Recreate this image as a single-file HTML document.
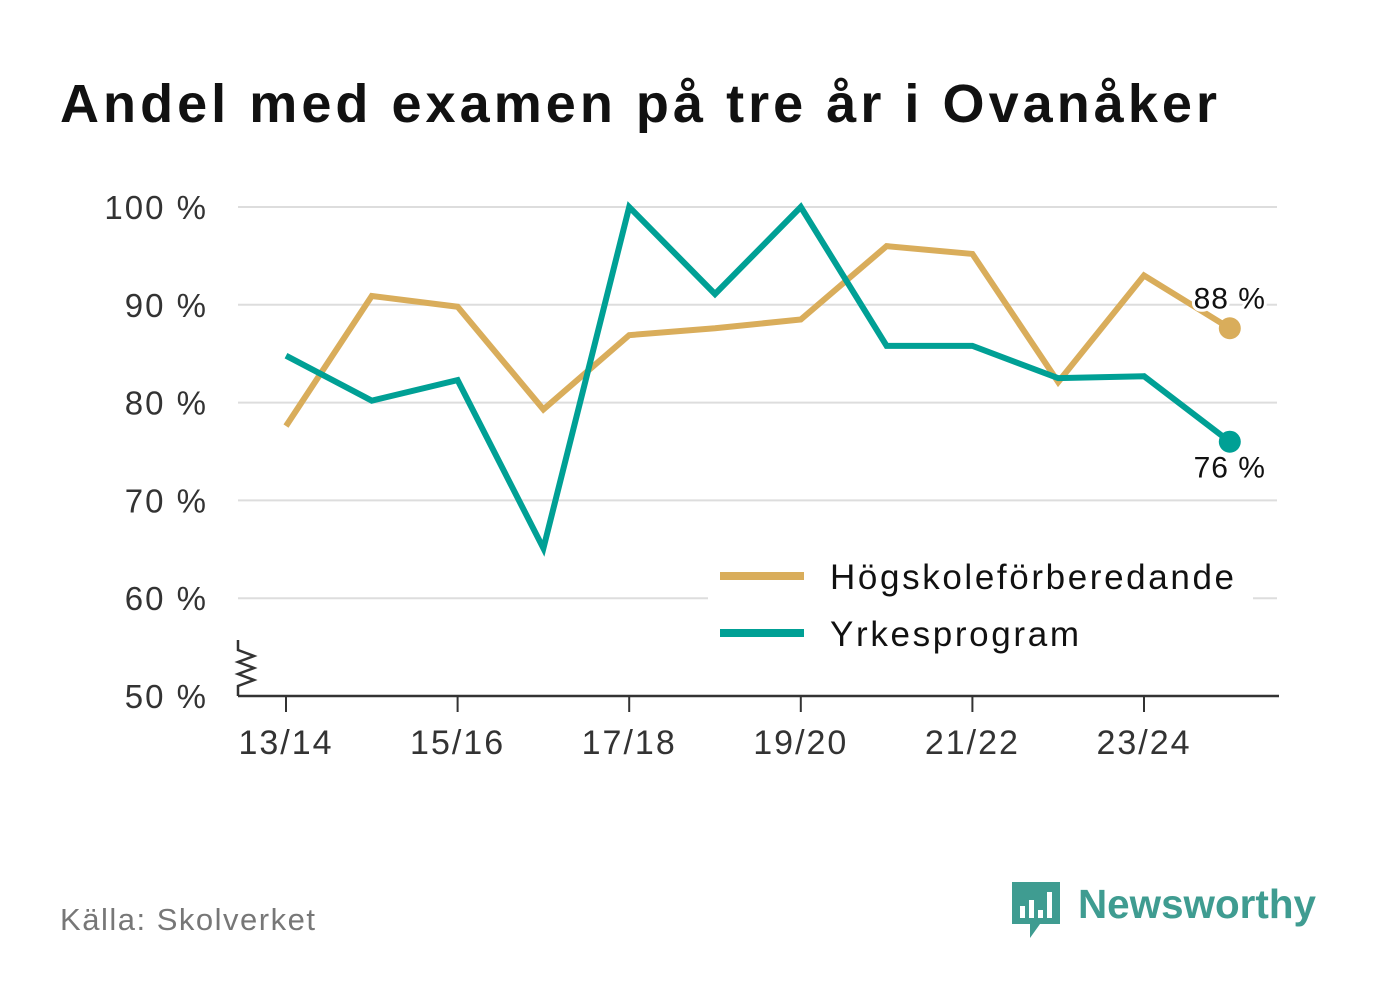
<!DOCTYPE html>
<html><head><meta charset="utf-8"><style>
body{margin:0;background:#fff;width:1382px;height:999px;overflow:hidden;font-family:"Liberation Sans",sans-serif}
</style></head><body>
<svg width="1382" height="999" id="svg">
<text x="60" y="122" font-size="54" font-weight="bold" fill="#111" textLength="1157" lengthAdjust="spacing">Andel med examen på tre år i Ovanåker</text>
<g id="grid"></g>
<g id="lines"></g>
<text x="60" y="930" font-size="31" fill="#777" textLength="255" lengthAdjust="spacing">Källa: Skolverket</text>
<g>
<path d="M1012 882h48v42h-20l-10 14v-14h-18z" fill="#3f9c91"/>
<rect x="1020" y="906" width="5" height="12" fill="#fff"/><rect x="1029" y="900" width="5" height="18" fill="#fff"/><rect x="1038" y="910" width="5" height="8" fill="#fff"/><rect x="1047" y="892" width="5" height="26" fill="#fff"/>
<text x="1078" y="918" font-size="41" font-weight="bold" fill="#3f9c91" textLength="238" lengthAdjust="spacingAndGlyphs">Newsworthy</text>
</g>
</svg>
<script>
const categories=["13/14","14/15","15/16","16/17","17/18","18/19","19/20","20/21","21/22","22/23","23/24","24/25"];
const hogskole=[77.6,90.9,89.8,79.3,86.9,87.6,88.5,96.0,95.2,82.1,93.0,87.6];
const yrkes=[84.8,80.2,82.3,65.1,100,91.1,100,85.8,85.8,82.5,82.7,76.0];
const yTicks=[50,60,70,80,90,100];
const xTickLabels=["13/14","15/16","17/18","19/20","21/22","23/24"];
const NS="http://www.w3.org/2000/svg";
const X=i=>286+i*85.8, Y=v=>696-(v-50)*9.78;
function mk(t,a,p){const e=document.createElementNS(NS,t);for(const k in a)e.setAttribute(k,a[k]);p.appendChild(e);return e;}
const g=document.getElementById('grid'),L=document.getElementById('lines');
yTicks.forEach(v=>{
 if(v>50){const l=mk('line',{x1:238,x2:1277,y1:Y(v),y2:Y(v),stroke:'#ddd','stroke-width':2},g);
 
 }
 const t=mk('text',{x:208,y:Y(v)+12,'font-size':33,fill:'#333','text-anchor':'end','letter-spacing':2},g);t.textContent=v+' %';
 
 
});
const ax=mk('line',{x1:238,x2:1279,y1:696,y2:696,stroke:'#333','stroke-width':2.5},g);


mk('path',{d:'M238 696v-10l16-6-16-6 16-6-16-6 16-6-16-6v-10',fill:'none',stroke:'#333','stroke-width':2.5},g);
categories.forEach((c,i)=>{
 const k=xTickLabels.indexOf(c);
 if(k>=0){
 mk('line',{x1:X(i),x2:X(i),y1:696,y2:712,stroke:'#333','stroke-width':2},g);
 const t=mk('text',{x:X(i),y:754,'font-size':34,fill:'#333','text-anchor':'middle','letter-spacing':2},g);t.textContent=c;
 
 }
});
function series(d,col,name,labDy){
 const p=mk('polyline',{points:d.map((v,i)=>X(i)+','+Y(v)).join(' '),fill:'none',stroke:col,'stroke-width':6,'stroke-linejoin':'miter'},L);
 
 
 const n=d.length-1;
 const c=mk('circle',{cx:X(n),cy:Y(d[n]),r:11,fill:col},L);
 
 
 const t=mk('text',{x:X(n),y:Y(d[n])+labDy,'font-size':30,fill:'#111','text-anchor':'middle',stroke:'#fff','stroke-width':6,'paint-order':'stroke','letter-spacing':1},L);
 t.textContent=Math.round(d[n])+' %';
 
 
}
series(hogskole,'#d9ad5b','hogskole',-20);
series(yrkes,'#00a095','yrkes',36);
const lg=mk('g',{},L);


mk('rect',{x:708,y:548,width:545,height:112,fill:'#fff'},lg);
mk('line',{x1:720,x2:804,y1:576,y2:576,stroke:'#d9ad5b','stroke-width':8},lg);
mk('line',{x1:720,x2:804,y1:633,y2:633,stroke:'#00a095','stroke-width':8},lg);
const t1=mk('text',{x:830,y:589,'font-size':35,fill:'#111',textLength:404,lengthAdjust:'spacing'},lg);t1.textContent='Högskoleförberedande';


const t2=mk('text',{x:830,y:646,'font-size':35,fill:'#111',textLength:249,lengthAdjust:'spacing'},lg);t2.textContent='Yrkesprogram';


</script>
</body></html>
